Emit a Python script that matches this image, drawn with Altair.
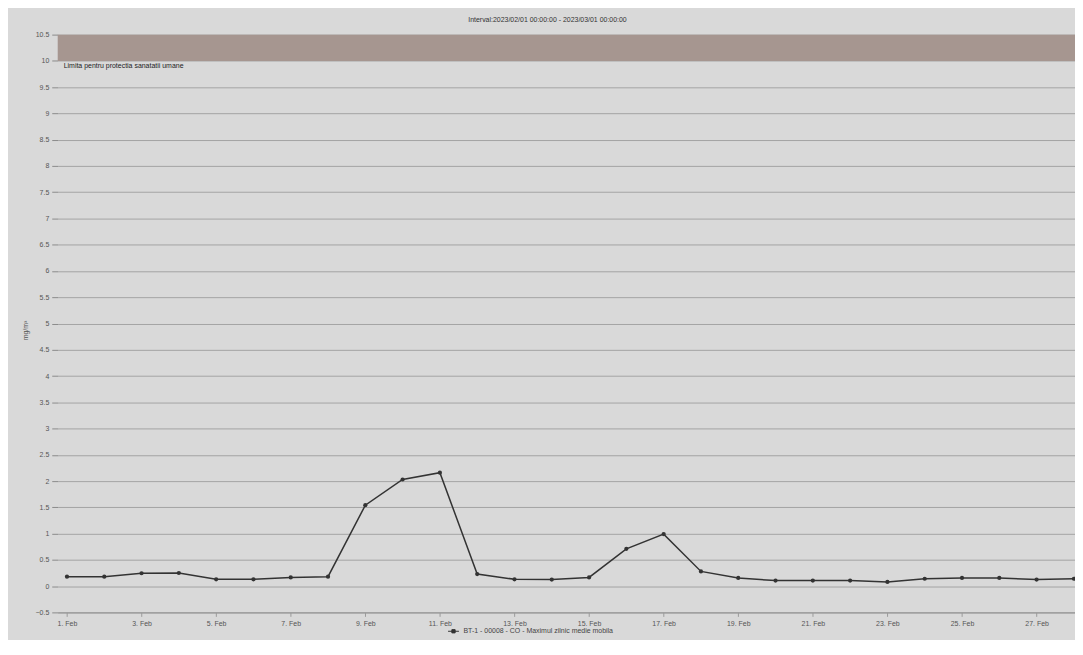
import altair as alt
import pandas as pd

# ---- data ----
days = list(range(1, 29))
values = [0.18, 0.18, 0.245, 0.25, 0.13, 0.13, 0.165, 0.18, 1.54, 2.03, 2.16,
          0.23, 0.13, 0.125, 0.165, 0.71, 0.99, 0.28, 0.155, 0.105, 0.105,
          0.105, 0.08, 0.14, 0.155, 0.155, 0.125, 0.14]
series_name = "BT-1 - 00008 - CO - Maximul zilnic medie mobila"
x_tick_days = [1, 3, 5, 7, 9, 11, 13, 15, 17, 19, 21, 23, 25, 27]
y_ticks = [-0.5, 0, 0.5, 1, 1.5, 2, 2.5, 3, 3.5, 4, 4.5, 5, 5.5, 6, 6.5, 7,
           7.5, 8, 8.5, 9, 9.5, 10, 10.5]
limit_low = [10.0]
limit_high = [10.5]
limit_label = ["Limita pentru protectia sanatatii umane"]
title_text = "Interval:2023/02/01 00:00:00 - 2023/03/01 00:00:00"
y_title = "mg/m³"

X_DOMAIN = [0.752, 28.03]
Y_DOMAIN = [-0.5, 10.5]
FONT = "Liberation Sans"
BG = "#d9d9d9"

df = pd.DataFrame({"day": days, "value": values, "series": [series_name] * len(days)})
band_df = pd.DataFrame({"x": [X_DOMAIN[0]], "x2": [X_DOMAIN[1]],
                        "y": limit_low, "y2": limit_high, "label": limit_label})

xscale = alt.Scale(domain=X_DOMAIN, nice=False, zero=False)
yscale = alt.Scale(domain=Y_DOMAIN, nice=False, zero=False)

xaxis = alt.Axis(values=x_tick_days, labelExpr="datum.value + '. Feb'", grid=False,
                 title=None, labelFontSize=7, labelColor="#555", labelFont=FONT,
                 domainColor="#9a9a9a", domainWidth=1.5, tickColor="#9a9a9a",
                 tickSize=4, labelPadding=3, labelOverlap=False)
yaxis = alt.Axis(values=y_ticks, format=".1~f", grid=True, gridColor="#a3a3a3",
                 gridWidth=1, domain=False, tickColor="#8a8a8a", tickSize=6,
                 labelFontSize=7, labelColor="#555", labelFont=FONT, labelPadding=3,
                 labelOverlap=False, tickCount=23,
                 title=y_title, titleFontSize=7, titleFont=FONT, titleColor="#555",
                 titleFontWeight="normal", titleX=-32, titleY=297, titleAngle=270,
                 titleAlign="center", titleBaseline="middle")

X = lambda f: alt.X(f, scale=xscale, axis=xaxis)
Y = lambda f: alt.Y(f, scale=yscale, axis=yaxis)

band = alt.Chart(band_df).mark_rect(color="#a69690").encode(
    x=X("x:Q"), x2="x2:Q", y=Y("y:Q"), y2="y2:Q",
)

band_text = alt.Chart(band_df).mark_text(
    align="left", baseline="top", fontSize=7, font=FONT, color="#222", dx=6, dy=1
).encode(x=X("x:Q"), y=Y("y:Q"), text="label:N")

color = alt.Color("series:N", scale=alt.Scale(range=["#333333"]),
                  legend=alt.Legend(orient="none", legendX=392, legendY=594,
                                    title=None, labelFontSize=7, labelFont=FONT,
                                    labelColor="#444",
                                    symbolType="M-1,0H1M-0.3,-0.3H0.3V0.3H-0.3Z",
                                    symbolSize=120, symbolStrokeWidth=1,
                                    symbolFillColor="#333333",
                                    symbolStrokeColor="#333333", padding=0))

line = alt.Chart(df).mark_line(strokeWidth=1.5).encode(
    x=X("day:Q"), y=Y("value:Q"), color=color,
)
pts = alt.Chart(df).mark_circle(size=18, opacity=1, color="#333333").encode(
    x=X("day:Q"), y=Y("value:Q"),
)

chart = alt.layer(band, band_text, line, pts).properties(
    width=1023, height=581,
    autosize=alt.AutoSizeParams(type="none"),
    padding={"left": 50, "top": 25, "right": 0, "bottom": 26},
    background=BG,
    title=alt.TitleParams(text=title_text, fontSize=7, font=FONT, color="#333",
                          fontWeight="normal", anchor="middle", dx=-19, offset=8),
).configure_view(stroke="transparent")

chart.save("out.html", embed_options={"renderer": "svg", "actions": False})
